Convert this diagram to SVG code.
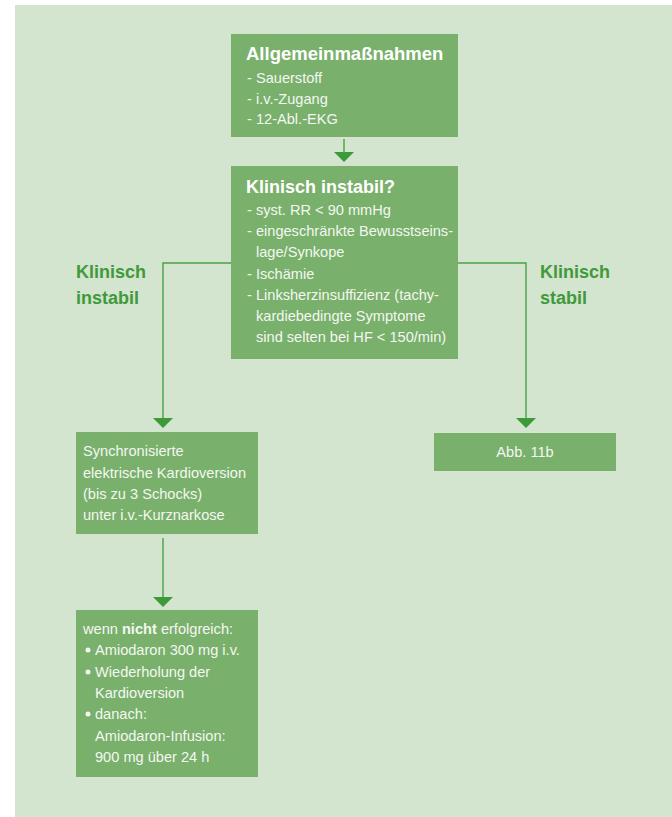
<svg xmlns="http://www.w3.org/2000/svg" width="672" height="817" viewBox="0 0 672 817">
  <defs>
    <style>
      .panel { fill: #d3e4cf; }
      .box { fill: #79b06b; }
      .t { font-family: "Liberation Sans", Arial, sans-serif; font-size: 14.6px; fill: #f4f7f2; }
      .h { font-family: "Liberation Sans", Arial, sans-serif; font-size: 18.5px; font-weight: bold; fill: #ffffff; }
      .lbl { font-family: "Liberation Sans", Arial, sans-serif; font-size: 18px; font-weight: bold; fill: #3f9a3c; }
      .line { fill: none; stroke: #4aa046; stroke-width: 1.4; }
      .head { fill: #3d9a38; }
      .b { font-weight: bold; }
    </style>
  </defs>

  <rect class="panel" x="15" y="5" width="657" height="812"/>

  <!-- connectors with their arrowheads -->
  <g id="connectors">
    <line class="line" x1="344" y1="139" x2="344" y2="152"/>
    <path class="head" d="M334,152 L354,152 L344,162 Z"/>
    <polyline class="line" points="231,263 163,263 163,418"/>
    <path class="head" d="M153,418 L173,418 L163,428 Z"/>
    <polyline class="line" points="458,263 526,263 526,418"/>
    <path class="head" d="M516,418 L536,418 L526,428 Z"/>
    <line class="line" x1="163" y1="538" x2="163" y2="597"/>
    <path class="head" d="M153,597 L173,597 L163,607 Z"/>
  </g>

  <!-- branch labels -->
  <g id="label-instabil">
    <text class="lbl" x="76" y="278">Klinisch</text>
    <text class="lbl" x="76" y="304">instabil</text>
  </g>
  <g id="label-stabil">
    <text class="lbl" x="540" y="278">Klinisch</text>
    <text class="lbl" x="540" y="304">stabil</text>
  </g>

  <g id="node-allgemein">
    <rect class="box" x="231" y="34" width="227" height="103"/>
    <text class="h" x="246" y="60">Allgemeinmaßnahmen</text>
    <text class="t" x="247" y="83">- Sauerstoff</text>
    <text class="t" x="247" y="104">- i.v.-Zugang</text>
    <text class="t" x="247" y="124">- 12-Abl.-EKG</text>
  </g>

  <g id="node-instabil">
    <rect class="box" x="231" y="166" width="227" height="193"/>
    <text class="h" x="246" y="193" style="font-size:18px">Klinisch instabil?</text>
    <text class="t" x="247" y="215">- syst. RR &lt; 90 mmHg</text>
    <text class="t" x="247" y="236">- eingeschränkte Bewusstseins-</text>
    <text class="t" x="256" y="257">lage/Synkope</text>
    <text class="t" x="247" y="279">- Ischämie</text>
    <text class="t" x="247" y="300">- Linksherzinsuffizienz (tachy-</text>
    <text class="t" x="256" y="321">kardiebedingte Symptome</text>
    <text class="t" x="256" y="342">sind selten bei HF &lt; 150/min)</text>
  </g>

  <g id="node-kardioversion">
    <rect class="box" x="76" y="432" width="182" height="102"/>
    <text class="t" x="83" y="456">Synchronisierte</text>
    <text class="t" x="83" y="478">elektrische Kardioversion</text>
    <text class="t" x="83" y="499">(bis zu 3 Schocks)</text>
    <text class="t" x="83" y="520">unter i.v.-Kurznarkose</text>
  </g>

  <g id="node-abb11b">
    <rect class="box" x="434" y="433" width="182" height="38"/>
    <text class="t" x="525" y="457" text-anchor="middle">Abb. 11b</text>
  </g>

  <g id="node-amiodaron">
    <rect class="box" x="76" y="610" width="182" height="167"/>
    <text class="t" x="83" y="634">wenn <tspan class="b">nicht</tspan> erfolgreich:</text>
    <circle cx="88" cy="650" r="2.5" fill="#f4f7f2"/>
    <text class="t" x="95" y="655">Amiodaron 300 mg i.v.</text>
    <circle cx="88" cy="672" r="2.5" fill="#f4f7f2"/>
    <text class="t" x="95" y="677">Wiederholung der</text>
    <text class="t" x="95" y="698">Kardioversion</text>
    <circle cx="88" cy="714" r="2.5" fill="#f4f7f2"/>
    <text class="t" x="95" y="719">danach:</text>
    <text class="t" x="95" y="741">Amiodaron-Infusion:</text>
    <text class="t" x="95" y="762">900 mg über 24 h</text>
  </g>
</svg>
